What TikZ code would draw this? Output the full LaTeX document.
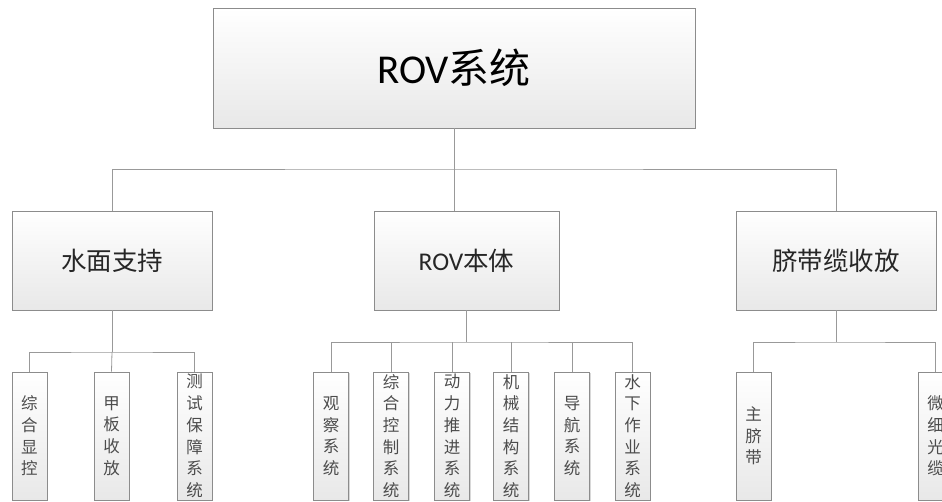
\documentclass[tikz,border=0pt]{standalone}
\usepackage{fontspec}
\setmainfont{Noto Sans CJK SC}
\newfontfamily\lat{Carlito}
\usetikzlibrary{shadows}
\tikzset{
  box/.style={draw=black!45, line width=0.8pt, top color=white, bottom color=black!9,
    drop shadow={shadow xshift=1.2pt, shadow yshift=-1.2pt, fill=black!25, opacity=0.6},
    inner sep=0pt, align=center},
  topbox/.style={box, minimum width=482pt, minimum height=120pt, font=\fontsize{41}{44}\selectfont, text=black},
  midbox/.style={box, minimum height=99pt, font=\fontsize{25.5}{28}\selectfont, text=black!85},
  leafbox/.style={box, minimum width=35pt, minimum height=128pt, text width=35pt,
    font=\fontsize{16.5}{21.7}\selectfont, text=black!70},
  conn/.style={draw=black!40, line width=0.8pt}
}
\begin{document}
\begin{tikzpicture}[x=1pt,y=-1pt]
\useasboundingbox (0,0) rectangle (942,502);
\clip (0,0) rectangle (942,502);
\fill[white] (0,0) rectangle (942,502);
% top
\node[topbox] (top) at (454,68) {{\lat ROV}系统};
% level 2
\node[midbox, minimum width=200pt] (sA) at (112,260.5) {水面支持};
\node[midbox, minimum width=185pt] (sB) at (466.5,260.5) {{\lat ROV}本体};
\node[midbox, minimum width=200pt] (sC) at (836,260.5) {脐带缆收放};
% level 3 left
\node[leafbox] (a1) at (29.5,436) {综\\合\\显\\控};
\node[leafbox] (a2) at (111.5,436) {甲\\板\\收\\放};
\node[leafbox] (a3) at (194.5,436) {测\\试\\保\\障\\系\\统};
% level 3 middle
\node[leafbox] (b1) at (331,436) {观\\察\\系\\统};
\node[leafbox] (b2) at (391,436) {综\\合\\控\\制\\系\\统};
\node[leafbox] (b3) at (452,436) {动\\力\\推\\进\\系\\统};
\node[leafbox] (b4) at (511,436) {机\\械\\结\\构\\系\\统};
\node[leafbox] (b5) at (572,436) {导\\航\\系\\统};
\node[leafbox] (b6) at (632.5,436) {水\\下\\作\\业\\系\\统};
% level 3 right
\node[leafbox] (c1) at (753.5,436) {主\\脐\\带};
\node[leafbox] (c2) at (935.5,436) {微\\细\\光\\缆};
% connectors level 1 -> 2
\coordinate (h1) at (454,169);
\draw[conn] (top.south) -- (h1);
\draw[conn] (sA.north) |- (h1) -| (sC.north);
\draw[conn] (h1) -- (sB.north -| h1);
% left group
\coordinate (hA) at (112,352);
\draw[conn] (sA.south) -- (hA);
\draw[conn] (a1.north) |- (hA) -| (a3.north);
\draw[conn] (hA) -- (a2.north);
% middle group
\coordinate (hB) at (466.5,342);
\draw[conn] (sB.south) -- (hB);
\draw[conn] (b1.north) |- (hB) -| (b6.north);
\draw[conn] (b2.north) -- (b2.north |- hB);
\draw[conn] (b3.north) -- (b3.north |- hB);
\draw[conn] (b4.north) -- (b4.north |- hB);
\draw[conn] (b5.north) -- (b5.north |- hB);
% right group
\coordinate (hC) at (836,342);
\draw[conn] (sC.south) -- (hC);
\draw[conn] (c1.north) |- (hC) -| (c2.north);
\end{tikzpicture}
\end{document}
